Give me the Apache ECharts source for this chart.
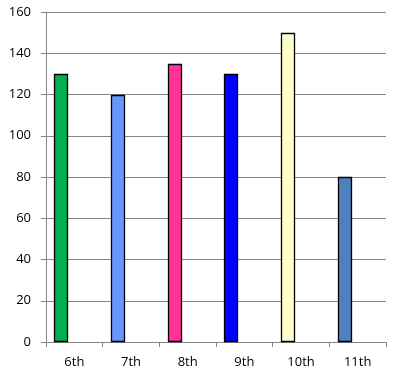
<!DOCTYPE html>
<html>
<head>
<meta charset="utf-8">
<script src="https://cdn.jsdelivr.net/npm/echarts@6/dist/echarts.min.js"></script>
<style>html,body{margin:0;padding:0;background:#fff}#c{width:409px;height:382px}</style>
</head>
<body>
<div id="c"></div>
<script>
const categories = ['6th', '7th', '8th', '9th', '10th', '11th'];
const values = [130, 120, 135, 130, 150, 80];
const barColors = ['#00B050', '#6699FF', '#FF3399', '#0000FF', '#FFFFCC', '#4F81BD'];
const yTicks = { min: 0, max: 160, interval: 20 };

const chart = echarts.init(document.getElementById('c'), null, { renderer: 'canvas' });
const font = 'Open Sans, Arial, sans-serif';
chart.setOption({
  animation: false,
  backgroundColor: '#ffffff',
  grid: { left: 46, right: 23, top: 12, bottom: 40, containLabel: false },
  xAxis: {
    type: 'category',
    data: categories,
    boundaryGap: true,
    axisLine: { lineStyle: { color: '#868686', width: 1 } },
    axisTick: { show: true, length: 5, alignWithLabel: false, lineStyle: { color: '#868686' } },
    axisLabel: { color: '#000', fontFamily: font, fontSize: 13, margin: 14 },
    splitLine: { show: false }
  },
  yAxis: {
    type: 'value',
    min: yTicks.min, max: yTicks.max, interval: yTicks.interval,
    axisLine: { show: true, lineStyle: { color: '#868686', width: 1 } },
    axisTick: { show: true, length: 5, lineStyle: { color: '#868686' } },
    axisLabel: { color: '#000', fontFamily: font, fontSize: 13, margin: 15 },
    splitLine: { show: true, lineStyle: { color: '#868686', width: 1 } }
  },
  series: [{
    type: 'custom',
    data: values.map((v, i) => [i, v]),
    encode: { x: 0, y: 1 },
    renderItem: function (params, api) {
      const idx = api.value(0);
      const top = api.coord([idx, api.value(1)]);
      const base = api.coord([idx, 0]);
      const band = api.size([1, 0])[0];
      const w = band * 0.238;
      const x = top[0] - band * 0.5 + band * 0.147;
      const y0 = Math.round(top[1]) + 0.5;
      const y1 = Math.round(base[1]) - 0.5;
      return {
        type: 'rect',
        shape: { x: Math.round(x) + 0.5, y: y0, width: Math.round(w), height: y1 - y0 },
        style: { fill: barColors[params.dataIndex], stroke: '#000', lineWidth: 1.3 }
      };
    }
  }]
});
</script>
</body>
</html>
